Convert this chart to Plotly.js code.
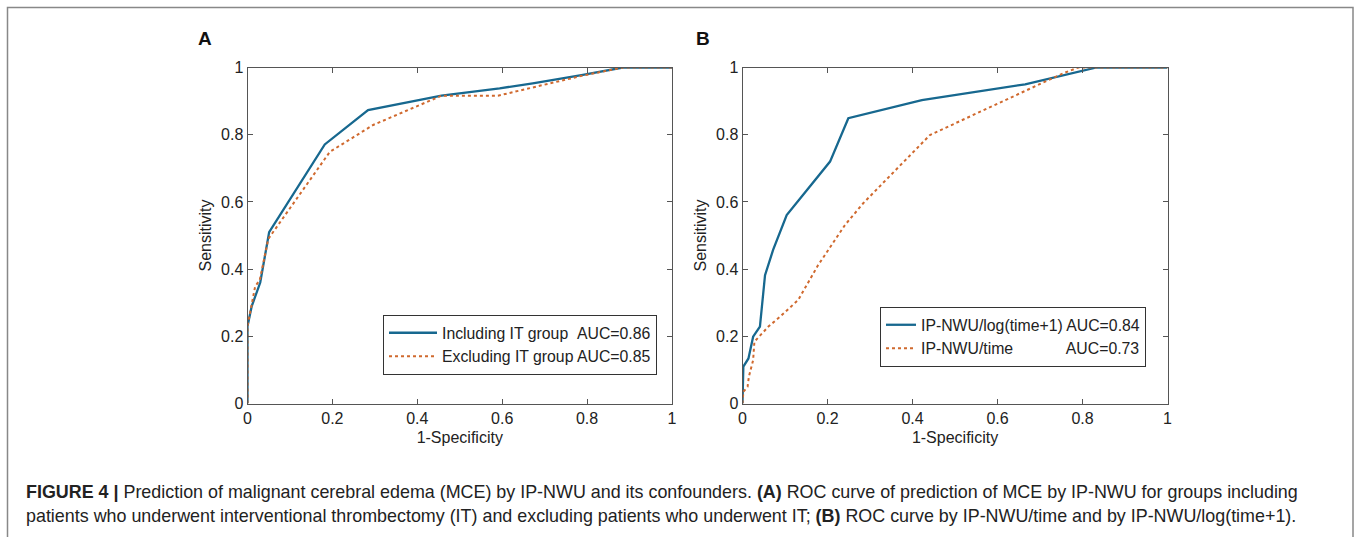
<!DOCTYPE html>
<html>
<head>
<meta charset="utf-8">
<script src="https://cdn.plot.ly/plotly-3.0.1.min.js"></script>
<style>
html,body{margin:0;padding:0;background:#fff;}
#chart{width:1357px;height:537px;}
</style>
</head>
<body>
<div id="chart"></div>
<script>
// ---- Data ----
const tickVals = [0, 0.2, 0.4, 0.6, 0.8, 1];
const tickText = ["0", "0.2", "0.4", "0.6", "0.8", "1"];

// Panel A
const aInclX = [0, 0, 0.010, 0.030, 0.051, 0.182, 0.284, 0.457, 0.594, 0.672, 0.790, 0.884, 1];
const aInclY = [0, 0.23, 0.29, 0.36, 0.510, 0.771, 0.873, 0.916, 0.938, 0.953, 0.978, 1.0, 1];
const aExclX = [0, 0, 0.018, 0.029, 0.049, 0.194, 0.296, 0.457, 0.590, 0.790, 0.884, 1];
const aExclY = [0, 0.23, 0.348, 0.368, 0.490, 0.749, 0.829, 0.916, 0.916, 0.976, 1.0, 1];

// Panel B
const bLogX = [0, 0.002, 0.014, 0.025, 0.041, 0.053, 0.072, 0.104, 0.206, 0.249, 0.422, 0.665, 0.833, 1];
const bLogY = [0, 0.110, 0.134, 0.199, 0.229, 0.382, 0.457, 0.561, 0.720, 0.849, 0.903, 0.950, 1.0, 1];
const bTimeX = [0, 0.002, 0.012, 0.015, 0.025, 0.028, 0.061, 0.088, 0.131, 0.178, 0.241, 0.284, 0.441, 0.755, 0.790, 1];
const bTimeY = [0, 0.035, 0.050, 0.080, 0.129, 0.184, 0.229, 0.258, 0.308, 0.412, 0.531, 0.596, 0.799, 0.983, 1.0, 1];

const legendA = ["Including IT group\u00a0\u00a0AUC=0.86", "Excluding IT group AUC=0.85"];
const legendB = ["IP-NWU/log(time+1) AUC=0.84", "IP-NWU/time" + "\u00a0".repeat(12) + "AUC=0.73"];

const captionLines = [
  "<b>FIGURE 4 |</b> Prediction of malignant cerebral edema (MCE) by IP-NWU and its confounders. <b>(A)</b> ROC curve of prediction of MCE by IP-NWU for groups including",
  "patients who underwent interventional thrombectomy (IT) and excluding patients who underwent IT; <b>(B)</b> ROC curve by IP-NWU/time and by IP-NWU/log(time+1)."
];

// ---- Styles ----
const BLUE = "#17688f";
const ORANGE = "#d0692e";
const FONT = "Liberation Sans, Arial, sans-serif";
const W = 1357, H = 537;
const px = v => v / W;
const py = v => 1 - v / H;

const traces = [
  {x: aInclX, y: aInclY, xaxis: "x", yaxis: "y", name: legendA[0], mode: "lines",
   line: {color: BLUE, width: 2.3}, legend: "legend"},
  {x: aExclX, y: aExclY, xaxis: "x", yaxis: "y", name: legendA[1], mode: "lines",
   line: {color: ORANGE, width: 2, dash: "dot"}, legend: "legend"},
  {x: bLogX, y: bLogY, xaxis: "x2", yaxis: "y2", name: legendB[0], mode: "lines",
   line: {color: BLUE, width: 2.3}, legend: "legend2"},
  {x: bTimeX, y: bTimeY, xaxis: "x2", yaxis: "y2", name: legendB[1], mode: "lines",
   line: {color: ORANGE, width: 2, dash: "dot"}, legend: "legend2"}
];

const axisFont = {family: FONT, size: 16, color: "#222"};
function xax(domain, anchor) {
  return {domain: domain, anchor: anchor, range: [0, 1], tickvals: tickVals, ticktext: tickText,
    showline: true, mirror: "ticks", linecolor: "#555", linewidth: 1,
    ticks: "inside", ticklen: 5, tickcolor: "#555", showgrid: false, zeroline: false,
    tickfont: axisFont, fixedrange: true,
    title: {text: "1-Specificity", font: {family: FONT, size: 16, color: "#222"}, standoff: 6}};
}
function yax(anchor) {
  return {domain: [py(403.5), py(67.5)], range: [0, 1], tickvals: tickVals, ticktext: tickText,
    anchor: anchor,
    showline: true, mirror: "ticks", linecolor: "#555", linewidth: 1,
    ticks: "inside", ticklen: 5, tickcolor: "#555", showgrid: false, zeroline: false,
    tickfont: axisFont, fixedrange: true,
    title: {text: "Sensitivity", font: {family: FONT, size: 16, color: "#222"}, standoff: 5}};
}

const legendCommon = {
  bgcolor: "#fff", bordercolor: "#333", borderwidth: 1,
  font: {family: FONT, size: 15.8, color: "#222"},
  tracegroupgap: 0, xanchor: "right", yanchor: "bottom", itemclick: false
};

const annotations = [
  {text: "<b>A</b>", x: px(205), y: py(39), xref: "paper", yref: "paper", showarrow: false,
   xanchor: "center", yanchor: "middle", font: {family: FONT, size: 19, color: "#111"}},
  {text: "<b>B</b>", x: px(703), y: py(39), xref: "paper", yref: "paper", showarrow: false,
   xanchor: "center", yanchor: "middle", font: {family: FONT, size: 19, color: "#111"}},
  {text: captionLines[0], x: px(24), y: py(492), xref: "paper", yref: "paper", showarrow: false,
   xanchor: "left", yanchor: "middle", align: "left", font: {family: FONT, size: 17.9, color: "#222"}},
  {text: captionLines[1], x: px(24), y: py(516), xref: "paper", yref: "paper", showarrow: false,
   xanchor: "left", yanchor: "middle", align: "left", font: {family: FONT, size: 17.9, color: "#222"}}
];

const layout = {
  width: W, height: H,
  margin: {l: 0, r: 0, t: 0, b: 0},
  paper_bgcolor: "#fff", plot_bgcolor: "#fff",
  xaxis: xax([px(247.5), px(672)], "y"),
  yaxis: yax("x"),
  xaxis2: xax([px(742.5), px(1167.5)], "y2"),
  yaxis2: yax("x2"),
  legend: Object.assign({}, legendCommon, {x: px(657), y: py(375), itemwidth: 48}),
  legend2: Object.assign({}, legendCommon, {x: px(1146), y: py(367), itemwidth: 30}),
  annotations: annotations,
  shapes: [
    {type: "rect", xref: "paper", yref: "paper", x0: px(7.5), x1: px(1353), y0: -0.1, y1: py(7.5),
     line: {color: "#888", width: 1.5}, fillcolor: "rgba(0,0,0,0)", layer: "below"}
  ],
  showlegend: true
};

Plotly.newPlot("chart", traces, layout, {displayModeBar: false, staticPlot: true});
</script>
</body>
</html>
